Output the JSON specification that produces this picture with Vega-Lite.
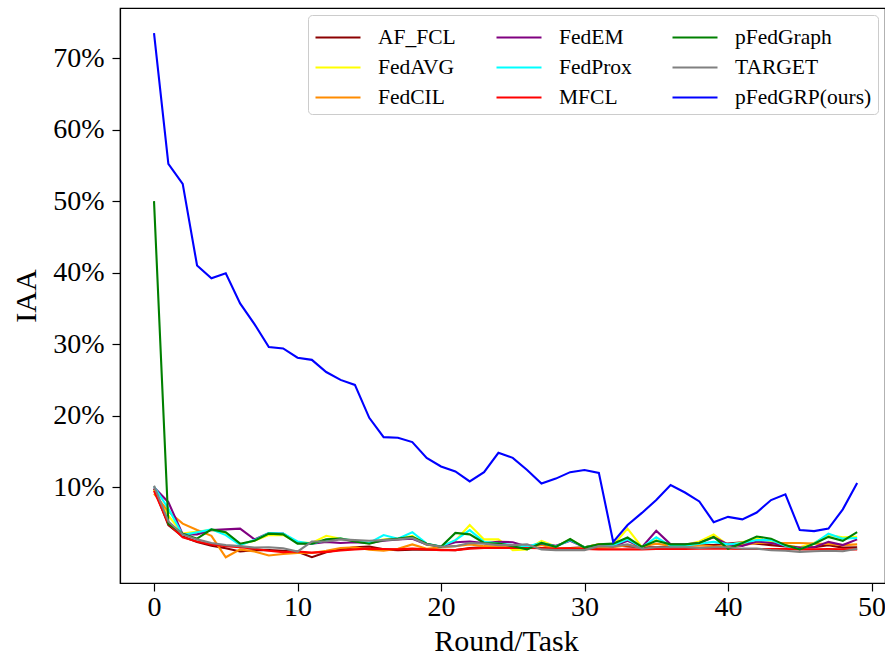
{
"$schema": "https://vega.github.io/schema/vega-lite/v6.json",
"width": 765, "height": 575,
"autosize": {"type": "none"},
"padding": {"left": 120, "top": 8, "right": 0, "bottom": 79},
"background": "white",
"config": {
  "font": "Liberation Serif",
  "view": {"stroke": "black", "strokeWidth": 1.2},
  "axis": {"domainColor": "black", "tickColor": "black", "labelColor": "black", "titleColor": "black", "titleFontWeight": "normal", "labelFontSize": 28, "titleFontSize": 30, "tickSize": 8, "domainWidth": 1.2, "tickWidth": 1.2, "grid": false, "labelFont": "Liberation Serif", "titleFont": "Liberation Serif"},
  "legend": {"labelFont": "Liberation Serif"}
},
"data": {"values": [
{"r":0,"m":"AF_FCL","v":9.8},{"r":1,"m":"AF_FCL","v":4.7},{"r":2,"m":"AF_FCL","v":3.1},{"r":3,"m":"AF_FCL","v":2.35},{"r":4,"m":"AF_FCL","v":1.8},{"r":5,"m":"AF_FCL","v":1.45},{"r":6,"m":"AF_FCL","v":1.0},{"r":7,"m":"AF_FCL","v":1.2},{"r":8,"m":"AF_FCL","v":1.2},{"r":9,"m":"AF_FCL","v":1.1},
{"r":10,"m":"AF_FCL","v":0.95},{"r":11,"m":"AF_FCL","v":0.2},{"r":12,"m":"AF_FCL","v":0.9},{"r":13,"m":"AF_FCL","v":1.3},{"r":14,"m":"AF_FCL","v":1.6},{"r":15,"m":"AF_FCL","v":1.7},{"r":16,"m":"AF_FCL","v":1.3},{"r":17,"m":"AF_FCL","v":1.2},{"r":18,"m":"AF_FCL","v":1.25},{"r":19,"m":"AF_FCL","v":1.3},
{"r":20,"m":"AF_FCL","v":1.25},{"r":21,"m":"AF_FCL","v":1.2},{"r":22,"m":"AF_FCL","v":1.5},{"r":23,"m":"AF_FCL","v":1.6},{"r":24,"m":"AF_FCL","v":1.55},{"r":25,"m":"AF_FCL","v":1.6},{"r":26,"m":"AF_FCL","v":1.5},{"r":27,"m":"AF_FCL","v":1.5},{"r":28,"m":"AF_FCL","v":1.4},{"r":29,"m":"AF_FCL","v":1.5},
{"r":30,"m":"AF_FCL","v":1.6},{"r":31,"m":"AF_FCL","v":2.0},{"r":32,"m":"AF_FCL","v":1.9},{"r":33,"m":"AF_FCL","v":1.7},{"r":34,"m":"AF_FCL","v":1.6},{"r":35,"m":"AF_FCL","v":1.6},{"r":36,"m":"AF_FCL","v":1.7},{"r":37,"m":"AF_FCL","v":1.8},{"r":38,"m":"AF_FCL","v":1.9},{"r":39,"m":"AF_FCL","v":1.9},
{"r":40,"m":"AF_FCL","v":2.1},{"r":41,"m":"AF_FCL","v":2.3},{"r":42,"m":"AF_FCL","v":2.1},{"r":43,"m":"AF_FCL","v":1.9},{"r":44,"m":"AF_FCL","v":1.7},{"r":45,"m":"AF_FCL","v":1.6},{"r":46,"m":"AF_FCL","v":1.6},{"r":47,"m":"AF_FCL","v":1.9},{"r":48,"m":"AF_FCL","v":1.55},{"r":49,"m":"AF_FCL","v":1.6},
{"r":0,"m":"FedAVG","v":9.6},{"r":1,"m":"FedAVG","v":6.0},{"r":2,"m":"FedAVG","v":3.5},{"r":3,"m":"FedAVG","v":3.8},{"r":4,"m":"FedAVG","v":4.0},{"r":5,"m":"FedAVG","v":3.6},{"r":6,"m":"FedAVG","v":2.0},{"r":7,"m":"FedAVG","v":2.5},{"r":8,"m":"FedAVG","v":3.3},{"r":9,"m":"FedAVG","v":3.3},
{"r":10,"m":"FedAVG","v":2.3},{"r":11,"m":"FedAVG","v":2.2},{"r":12,"m":"FedAVG","v":3.2},{"r":13,"m":"FedAVG","v":2.8},{"r":14,"m":"FedAVG","v":2.5},{"r":15,"m":"FedAVG","v":2.2},{"r":16,"m":"FedAVG","v":2.7},{"r":17,"m":"FedAVG","v":2.7},{"r":18,"m":"FedAVG","v":3.2},{"r":19,"m":"FedAVG","v":1.9},
{"r":20,"m":"FedAVG","v":1.7},{"r":21,"m":"FedAVG","v":2.5},{"r":22,"m":"FedAVG","v":4.7},{"r":23,"m":"FedAVG","v":2.7},{"r":24,"m":"FedAVG","v":2.7},{"r":25,"m":"FedAVG","v":1.2},{"r":26,"m":"FedAVG","v":1.3},{"r":27,"m":"FedAVG","v":2.5},{"r":28,"m":"FedAVG","v":1.7},{"r":29,"m":"FedAVG","v":2.7},
{"r":30,"m":"FedAVG","v":1.6},{"r":31,"m":"FedAVG","v":2.0},{"r":32,"m":"FedAVG","v":1.9},{"r":33,"m":"FedAVG","v":4.2},{"r":34,"m":"FedAVG","v":1.6},{"r":35,"m":"FedAVG","v":2.6},{"r":36,"m":"FedAVG","v":2.0},{"r":37,"m":"FedAVG","v":1.9},{"r":38,"m":"FedAVG","v":2.4},{"r":39,"m":"FedAVG","v":3.4},
{"r":40,"m":"FedAVG","v":1.9},{"r":41,"m":"FedAVG","v":2.3},{"r":42,"m":"FedAVG","v":2.8},{"r":43,"m":"FedAVG","v":2.4},{"r":44,"m":"FedAVG","v":1.9},{"r":45,"m":"FedAVG","v":1.6},{"r":46,"m":"FedAVG","v":2.2},{"r":47,"m":"FedAVG","v":3.3},{"r":48,"m":"FedAVG","v":3.0},{"r":49,"m":"FedAVG","v":3.05},
{"r":0,"m":"FedCIL","v":9.1},{"r":1,"m":"FedCIL","v":6.6},{"r":2,"m":"FedCIL","v":4.9},{"r":3,"m":"FedCIL","v":4.0},{"r":4,"m":"FedCIL","v":3.2},{"r":5,"m":"FedCIL","v":0.2},{"r":6,"m":"FedCIL","v":1.3},{"r":7,"m":"FedCIL","v":1.0},{"r":8,"m":"FedCIL","v":0.45},{"r":9,"m":"FedCIL","v":0.65},
{"r":10,"m":"FedCIL","v":0.8},{"r":11,"m":"FedCIL","v":0.8},{"r":12,"m":"FedCIL","v":1.1},{"r":13,"m":"FedCIL","v":1.5},{"r":14,"m":"FedCIL","v":1.6},{"r":15,"m":"FedCIL","v":1.25},{"r":16,"m":"FedCIL","v":1.1},{"r":17,"m":"FedCIL","v":1.4},{"r":18,"m":"FedCIL","v":2.0},{"r":19,"m":"FedCIL","v":1.4},
{"r":20,"m":"FedCIL","v":1.6},{"r":21,"m":"FedCIL","v":1.75},{"r":22,"m":"FedCIL","v":2.0},{"r":23,"m":"FedCIL","v":1.75},{"r":24,"m":"FedCIL","v":1.7},{"r":25,"m":"FedCIL","v":1.7},{"r":26,"m":"FedCIL","v":1.65},{"r":27,"m":"FedCIL","v":1.9},{"r":28,"m":"FedCIL","v":1.4},{"r":29,"m":"FedCIL","v":1.4},
{"r":30,"m":"FedCIL","v":1.5},{"r":31,"m":"FedCIL","v":1.5},{"r":32,"m":"FedCIL","v":1.6},{"r":33,"m":"FedCIL","v":1.9},{"r":34,"m":"FedCIL","v":1.7},{"r":35,"m":"FedCIL","v":2.1},{"r":36,"m":"FedCIL","v":1.8},{"r":37,"m":"FedCIL","v":1.8},{"r":38,"m":"FedCIL","v":1.9},{"r":39,"m":"FedCIL","v":1.7},
{"r":40,"m":"FedCIL","v":1.75},{"r":41,"m":"FedCIL","v":1.9},{"r":42,"m":"FedCIL","v":2.2},{"r":43,"m":"FedCIL","v":2.2},{"r":44,"m":"FedCIL","v":2.2},{"r":45,"m":"FedCIL","v":2.2},{"r":46,"m":"FedCIL","v":2.1},{"r":47,"m":"FedCIL","v":2.05},{"r":48,"m":"FedCIL","v":1.9},{"r":49,"m":"FedCIL","v":2.0},
{"r":0,"m":"FedEM","v":10.0},{"r":1,"m":"FedEM","v":7.9},{"r":2,"m":"FedEM","v":3.4},{"r":3,"m":"FedEM","v":3.4},{"r":4,"m":"FedEM","v":4.0},{"r":5,"m":"FedEM","v":4.1},{"r":6,"m":"FedEM","v":4.2},{"r":7,"m":"FedEM","v":2.7},{"r":8,"m":"FedEM","v":3.6},{"r":9,"m":"FedEM","v":3.5},
{"r":10,"m":"FedEM","v":2.2},{"r":11,"m":"FedEM","v":2.1},{"r":12,"m":"FedEM","v":2.35},{"r":13,"m":"FedEM","v":2.2},{"r":14,"m":"FedEM","v":2.3},{"r":15,"m":"FedEM","v":2.2},{"r":16,"m":"FedEM","v":2.5},{"r":17,"m":"FedEM","v":2.7},{"r":18,"m":"FedEM","v":2.8},{"r":19,"m":"FedEM","v":2.0},
{"r":20,"m":"FedEM","v":1.7},{"r":21,"m":"FedEM","v":2.3},{"r":22,"m":"FedEM","v":2.4},{"r":23,"m":"FedEM","v":2.2},{"r":24,"m":"FedEM","v":2.35},{"r":25,"m":"FedEM","v":2.3},{"r":26,"m":"FedEM","v":1.7},{"r":27,"m":"FedEM","v":2.1},{"r":28,"m":"FedEM","v":1.8},{"r":29,"m":"FedEM","v":2.5},
{"r":30,"m":"FedEM","v":1.6},{"r":31,"m":"FedEM","v":1.9},{"r":32,"m":"FedEM","v":1.7},{"r":33,"m":"FedEM","v":2.5},{"r":34,"m":"FedEM","v":1.6},{"r":35,"m":"FedEM","v":3.9},{"r":36,"m":"FedEM","v":2.0},{"r":37,"m":"FedEM","v":2.0},{"r":38,"m":"FedEM","v":2.2},{"r":39,"m":"FedEM","v":3.0},
{"r":40,"m":"FedEM","v":2.0},{"r":41,"m":"FedEM","v":1.8},{"r":42,"m":"FedEM","v":2.4},{"r":43,"m":"FedEM","v":2.2},{"r":44,"m":"FedEM","v":1.8},{"r":45,"m":"FedEM","v":1.55},{"r":46,"m":"FedEM","v":1.6},{"r":47,"m":"FedEM","v":2.35},{"r":48,"m":"FedEM","v":1.9},{"r":49,"m":"FedEM","v":2.7},
{"r":0,"m":"FedProx","v":10.1},{"r":1,"m":"FedProx","v":7.0},{"r":2,"m":"FedProx","v":3.3},{"r":3,"m":"FedProx","v":3.7},{"r":4,"m":"FedProx","v":4.1},{"r":5,"m":"FedProx","v":3.3},{"r":6,"m":"FedProx","v":1.9},{"r":7,"m":"FedProx","v":2.6},{"r":8,"m":"FedProx","v":3.6},{"r":9,"m":"FedProx","v":3.5},
{"r":10,"m":"FedProx","v":2.4},{"r":11,"m":"FedProx","v":2.1},{"r":12,"m":"FedProx","v":2.6},{"r":13,"m":"FedProx","v":2.8},{"r":14,"m":"FedProx","v":2.5},{"r":15,"m":"FedProx","v":2.2},{"r":16,"m":"FedProx","v":3.3},{"r":17,"m":"FedProx","v":2.8},{"r":18,"m":"FedProx","v":3.7},{"r":19,"m":"FedProx","v":2.1},
{"r":20,"m":"FedProx","v":1.7},{"r":21,"m":"FedProx","v":2.6},{"r":22,"m":"FedProx","v":4.0},{"r":23,"m":"FedProx","v":2.35},{"r":24,"m":"FedProx","v":2.1},{"r":25,"m":"FedProx","v":1.9},{"r":26,"m":"FedProx","v":1.7},{"r":27,"m":"FedProx","v":2.2},{"r":28,"m":"FedProx","v":1.7},{"r":29,"m":"FedProx","v":2.6},
{"r":30,"m":"FedProx","v":1.6},{"r":31,"m":"FedProx","v":1.9},{"r":32,"m":"FedProx","v":1.9},{"r":33,"m":"FedProx","v":2.7},{"r":34,"m":"FedProx","v":1.6},{"r":35,"m":"FedProx","v":3.0},{"r":36,"m":"FedProx","v":1.8},{"r":37,"m":"FedProx","v":1.8},{"r":38,"m":"FedProx","v":2.1},{"r":39,"m":"FedProx","v":2.35},
{"r":40,"m":"FedProx","v":2.0},{"r":41,"m":"FedProx","v":2.2},{"r":42,"m":"FedProx","v":2.6},{"r":43,"m":"FedProx","v":2.6},{"r":44,"m":"FedProx","v":1.8},{"r":45,"m":"FedProx","v":1.3},{"r":46,"m":"FedProx","v":2.1},{"r":47,"m":"FedProx","v":3.5},{"r":48,"m":"FedProx","v":2.8},{"r":49,"m":"FedProx","v":2.9},
{"r":0,"m":"MFCL","v":9.5},{"r":1,"m":"MFCL","v":4.9},{"r":2,"m":"MFCL","v":3.0},{"r":3,"m":"MFCL","v":2.4},{"r":4,"m":"MFCL","v":2.0},{"r":5,"m":"MFCL","v":1.75},{"r":6,"m":"MFCL","v":1.6},{"r":7,"m":"MFCL","v":1.4},{"r":8,"m":"MFCL","v":1.1},{"r":9,"m":"MFCL","v":0.9},
{"r":10,"m":"MFCL","v":1.0},{"r":11,"m":"MFCL","v":0.85},{"r":12,"m":"MFCL","v":0.95},{"r":13,"m":"MFCL","v":1.15},{"r":14,"m":"MFCL","v":1.3},{"r":15,"m":"MFCL","v":1.4},{"r":16,"m":"MFCL","v":1.35},{"r":17,"m":"MFCL","v":1.3},{"r":18,"m":"MFCL","v":1.4},{"r":19,"m":"MFCL","v":1.3},
{"r":20,"m":"MFCL","v":1.2},{"r":21,"m":"MFCL","v":1.2},{"r":22,"m":"MFCL","v":1.4},{"r":23,"m":"MFCL","v":1.5},{"r":24,"m":"MFCL","v":1.5},{"r":25,"m":"MFCL","v":1.5},{"r":26,"m":"MFCL","v":1.5},{"r":27,"m":"MFCL","v":1.45},{"r":28,"m":"MFCL","v":1.4},{"r":29,"m":"MFCL","v":1.4},
{"r":30,"m":"MFCL","v":1.35},{"r":31,"m":"MFCL","v":1.3},{"r":32,"m":"MFCL","v":1.3},{"r":33,"m":"MFCL","v":1.3},{"r":34,"m":"MFCL","v":1.3},{"r":35,"m":"MFCL","v":1.35},{"r":36,"m":"MFCL","v":1.35},{"r":37,"m":"MFCL","v":1.35},{"r":38,"m":"MFCL","v":1.4},{"r":39,"m":"MFCL","v":1.4},
{"r":40,"m":"MFCL","v":1.4},{"r":41,"m":"MFCL","v":1.35},{"r":42,"m":"MFCL","v":1.35},{"r":43,"m":"MFCL","v":1.35},{"r":44,"m":"MFCL","v":1.35},{"r":45,"m":"MFCL","v":1.3},{"r":46,"m":"MFCL","v":1.3},{"r":47,"m":"MFCL","v":1.35},{"r":48,"m":"MFCL","v":1.3},{"r":49,"m":"MFCL","v":1.3},
{"r":0,"m":"pFedGraph","v":50.0},{"r":1,"m":"pFedGraph","v":4.9},{"r":2,"m":"pFedGraph","v":3.5},{"r":3,"m":"pFedGraph","v":2.8},{"r":4,"m":"pFedGraph","v":4.1},{"r":5,"m":"pFedGraph","v":3.7},{"r":6,"m":"pFedGraph","v":2.1},{"r":7,"m":"pFedGraph","v":2.5},{"r":8,"m":"pFedGraph","v":3.5},{"r":9,"m":"pFedGraph","v":3.4},
{"r":10,"m":"pFedGraph","v":2.1},{"r":11,"m":"pFedGraph","v":2.1},{"r":12,"m":"pFedGraph","v":2.7},{"r":13,"m":"pFedGraph","v":2.8},{"r":14,"m":"pFedGraph","v":2.4},{"r":15,"m":"pFedGraph","v":2.1},{"r":16,"m":"pFedGraph","v":2.6},{"r":17,"m":"pFedGraph","v":2.8},{"r":18,"m":"pFedGraph","v":3.05},{"r":19,"m":"pFedGraph","v":2.1},
{"r":20,"m":"pFedGraph","v":1.66},{"r":21,"m":"pFedGraph","v":3.6},{"r":22,"m":"pFedGraph","v":3.4},{"r":23,"m":"pFedGraph","v":2.2},{"r":24,"m":"pFedGraph","v":2.1},{"r":25,"m":"pFedGraph","v":1.75},{"r":26,"m":"pFedGraph","v":1.3},{"r":27,"m":"pFedGraph","v":2.2},{"r":28,"m":"pFedGraph","v":1.66},{"r":29,"m":"pFedGraph","v":2.75},
{"r":30,"m":"pFedGraph","v":1.55},{"r":31,"m":"pFedGraph","v":2.0},{"r":32,"m":"pFedGraph","v":2.1},{"r":33,"m":"pFedGraph","v":2.96},{"r":34,"m":"pFedGraph","v":1.66},{"r":35,"m":"pFedGraph","v":2.5},{"r":36,"m":"pFedGraph","v":2.0},{"r":37,"m":"pFedGraph","v":2.0},{"r":38,"m":"pFedGraph","v":2.2},{"r":39,"m":"pFedGraph","v":3.05},
{"r":40,"m":"pFedGraph","v":1.4},{"r":41,"m":"pFedGraph","v":2.2},{"r":42,"m":"pFedGraph","v":3.1},{"r":43,"m":"pFedGraph","v":2.8},{"r":44,"m":"pFedGraph","v":1.9},{"r":45,"m":"pFedGraph","v":1.3},{"r":46,"m":"pFedGraph","v":2.1},{"r":47,"m":"pFedGraph","v":3.05},{"r":48,"m":"pFedGraph","v":2.5},{"r":49,"m":"pFedGraph","v":3.7},
{"r":0,"m":"TARGET","v":10.2},{"r":1,"m":"TARGET","v":5.2},{"r":2,"m":"TARGET","v":3.4},{"r":3,"m":"TARGET","v":2.7},{"r":4,"m":"TARGET","v":2.2},{"r":5,"m":"TARGET","v":1.9},{"r":6,"m":"TARGET","v":1.75},{"r":7,"m":"TARGET","v":1.55},{"r":8,"m":"TARGET","v":1.6},{"r":9,"m":"TARGET","v":1.45},
{"r":10,"m":"TARGET","v":1.0},{"r":11,"m":"TARGET","v":2.4},{"r":12,"m":"TARGET","v":2.4},{"r":13,"m":"TARGET","v":2.7},{"r":14,"m":"TARGET","v":2.6},{"r":15,"m":"TARGET","v":2.5},{"r":16,"m":"TARGET","v":2.6},{"r":17,"m":"TARGET","v":2.7},{"r":18,"m":"TARGET","v":2.9},{"r":19,"m":"TARGET","v":2.0},
{"r":20,"m":"TARGET","v":1.66},{"r":21,"m":"TARGET","v":1.75},{"r":22,"m":"TARGET","v":2.2},{"r":23,"m":"TARGET","v":2.1},{"r":24,"m":"TARGET","v":1.9},{"r":25,"m":"TARGET","v":1.9},{"r":26,"m":"TARGET","v":2.0},{"r":27,"m":"TARGET","v":1.3},{"r":28,"m":"TARGET","v":1.2},{"r":29,"m":"TARGET","v":1.2},
{"r":30,"m":"TARGET","v":1.2},{"r":31,"m":"TARGET","v":1.75},{"r":32,"m":"TARGET","v":1.7},{"r":33,"m":"TARGET","v":2.0},{"r":34,"m":"TARGET","v":1.4},{"r":35,"m":"TARGET","v":1.6},{"r":36,"m":"TARGET","v":1.6},{"r":37,"m":"TARGET","v":1.6},{"r":38,"m":"TARGET","v":1.5},{"r":39,"m":"TARGET","v":1.6},
{"r":40,"m":"TARGET","v":1.6},{"r":41,"m":"TARGET","v":1.4},{"r":42,"m":"TARGET","v":1.4},{"r":43,"m":"TARGET","v":1.2},{"r":44,"m":"TARGET","v":1.1},{"r":45,"m":"TARGET","v":0.95},{"r":46,"m":"TARGET","v":1.05},{"r":47,"m":"TARGET","v":1.1},{"r":48,"m":"TARGET","v":1.05},{"r":49,"m":"TARGET","v":1.4},
{"r":0,"m":"pFedGRP(ours)","v":73.5},{"r":1,"m":"pFedGRP(ours)","v":55.2},{"r":2,"m":"pFedGRP(ours)","v":52.4},{"r":3,"m":"pFedGRP(ours)","v":41.0},{"r":4,"m":"pFedGRP(ours)","v":39.2},{"r":5,"m":"pFedGRP(ours)","v":39.9},{"r":6,"m":"pFedGRP(ours)","v":35.7},{"r":7,"m":"pFedGRP(ours)","v":32.8},{"r":8,"m":"pFedGRP(ours)","v":29.6},{"r":9,"m":"pFedGRP(ours)","v":29.4},
{"r":10,"m":"pFedGRP(ours)","v":28.1},{"r":11,"m":"pFedGRP(ours)","v":27.8},{"r":12,"m":"pFedGRP(ours)","v":26.1},{"r":13,"m":"pFedGRP(ours)","v":25.0},{"r":14,"m":"pFedGRP(ours)","v":24.3},{"r":15,"m":"pFedGRP(ours)","v":19.7},{"r":16,"m":"pFedGRP(ours)","v":17.0},{"r":17,"m":"pFedGRP(ours)","v":16.9},{"r":18,"m":"pFedGRP(ours)","v":16.3},{"r":19,"m":"pFedGRP(ours)","v":14.1},
{"r":20,"m":"pFedGRP(ours)","v":12.9},{"r":21,"m":"pFedGRP(ours)","v":12.2},{"r":22,"m":"pFedGRP(ours)","v":10.8},{"r":23,"m":"pFedGRP(ours)","v":12.1},{"r":24,"m":"pFedGRP(ours)","v":14.8},{"r":25,"m":"pFedGRP(ours)","v":14.1},{"r":26,"m":"pFedGRP(ours)","v":12.4},{"r":27,"m":"pFedGRP(ours)","v":10.5},{"r":28,"m":"pFedGRP(ours)","v":11.2},{"r":29,"m":"pFedGRP(ours)","v":12.1},
{"r":30,"m":"pFedGRP(ours)","v":12.4},{"r":31,"m":"pFedGRP(ours)","v":12.0},{"r":32,"m":"pFedGRP(ours)","v":2.35},{"r":33,"m":"pFedGRP(ours)","v":4.7},{"r":34,"m":"pFedGRP(ours)","v":6.4},{"r":35,"m":"pFedGRP(ours)","v":8.2},{"r":36,"m":"pFedGRP(ours)","v":10.3},{"r":37,"m":"pFedGRP(ours)","v":9.25},{"r":38,"m":"pFedGRP(ours)","v":8.0},{"r":39,"m":"pFedGRP(ours)","v":5.1},
{"r":40,"m":"pFedGRP(ours)","v":5.85},{"r":41,"m":"pFedGRP(ours)","v":5.5},{"r":42,"m":"pFedGRP(ours)","v":6.45},{"r":43,"m":"pFedGRP(ours)","v":8.2},{"r":44,"m":"pFedGRP(ours)","v":9.0},{"r":45,"m":"pFedGRP(ours)","v":4.0},{"r":46,"m":"pFedGRP(ours)","v":3.85},{"r":47,"m":"pFedGRP(ours)","v":4.2},{"r":48,"m":"pFedGRP(ours)","v":6.9},{"r":49,"m":"pFedGRP(ours)","v":10.6}
]},
"mark": {"type": "line", "strokeWidth": 2.1, "clip": true},
"encoding": {
  "x": {"field": "r", "type": "quantitative", "scale": {"domain": [-2.37, 50.94], "nice": false, "zero": false},
        "axis": {"values": [0, 10, 20, 30, 40, 50], "title": "Round/Task", "titleX": 386, "titleY": 67, "titleBaseline": "alphabetic", "labelPadding": 2, "labelFlush": false, "labelOverlap": false}},
  "y": {"field": "v", "type": "quantitative", "scale": {"domain": [-3.4, 77], "nice": false, "zero": false},
        "axis": {"values": [10, 20, 30, 40, 50, 60, 70], "labelExpr": "datum.value + '%'", "title": "IAA", "titleX": -79, "titleY": 287.5, "labelPadding": 8}},
  "color": {"field": "m", "type": "nominal",
    "scale": {"domain": ["AF_FCL", "FedEM", "pFedGraph", "FedAVG", "FedProx", "TARGET", "FedCIL", "MFCL", "pFedGRP(ours)"],
              "range": ["#8B0000", "#800080", "#008000", "#FFFF00", "#00FFFF", "#808080", "#FF8C00", "#FF0000", "#0000FF"]},
    "legend": {"title": null, "orient": "none", "legendX": 188, "legendY": 7, "direction": "horizontal", "columns": 3,
               "symbolType": "M-1,0H2", "symbolSize": 900, "symbolStrokeWidth": 2.1, "symbolFillColor": "transparent", "labelFontSize": 21.5, "labelColor": "black",
               "labelOffset": 31, "columnPadding": 36, "rowPadding": 3, "padding": 6,
               "fillColor": "rgba(255,255,255,0.8)", "strokeColor": "#cccccc", "cornerRadius": 4, "labelLimit": 300}}
}
}
